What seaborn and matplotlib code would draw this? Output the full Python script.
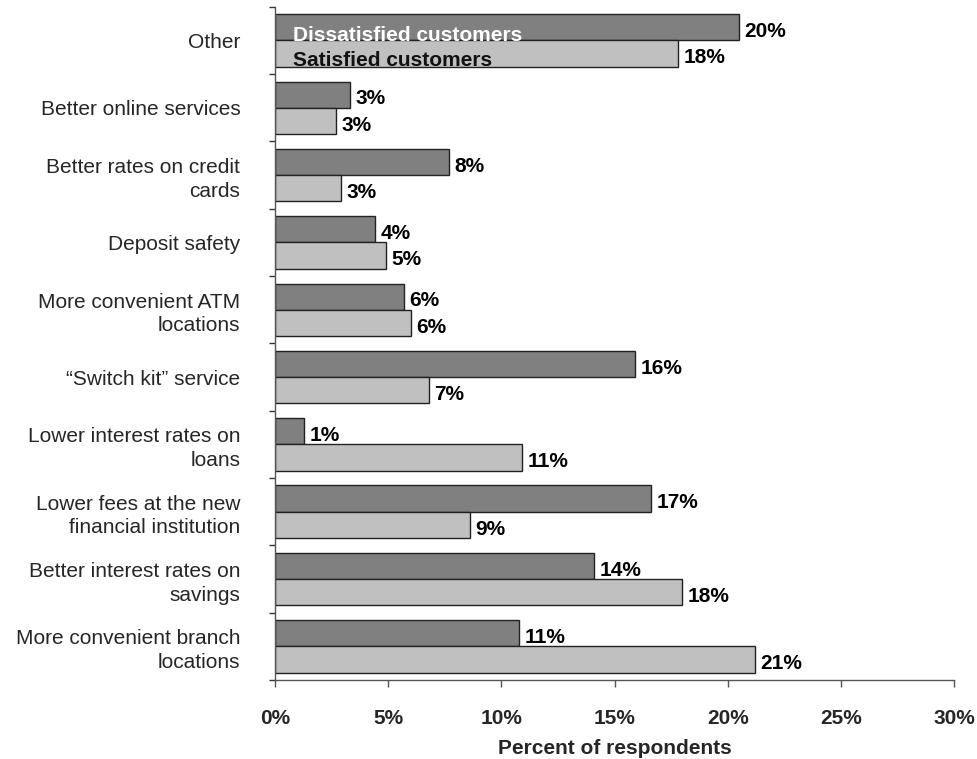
import pandas as pd
import matplotlib
matplotlib.use("Agg")
import matplotlib.pyplot as plt
from matplotlib.ticker import FixedLocator, PercentFormatter
import seaborn as sns

# --- data ---
reasons = [
    "Other",
    "Better online services",
    "Better rates on credit\ncards",
    "Deposit safety",
    "More convenient ATM\nlocations",
    "\u201cSwitch kit\u201d service",
    "Lower interest rates on\nloans",
    "Lower fees at the new\nfinancial institution",
    "Better interest rates on\nsavings",
    "More convenient branch\nlocations",
]
dissatisfied = [20.5, 3.3, 7.7, 4.4, 5.7, 15.9, 1.3, 16.6, 14.1, 10.8]
satisfied = [17.8, 2.7, 2.9, 4.9, 6.0, 6.8, 10.9, 8.6, 18.0, 21.2]
groups = ["Dissatisfied customers", "Satisfied customers"]
x_ticks = [0, 5, 10, 15, 20, 25, 30]

df = pd.DataFrame({
    "Reason": reasons * 2,
    "Percent": dissatisfied + satisfied,
    "Group": [groups[0]] * len(reasons) + [groups[1]] * len(reasons),
})

sns.set_style("white")
plt.rcParams["font.family"] = ["Liberation Sans", "DejaVu Sans"]

fig = plt.figure(figsize=(9.77, 7.59), dpi=100)
ax = fig.add_axes([0.2815, 0.104, 0.695, 0.887])

sns.barplot(
    data=df, y="Reason", x="Percent", hue="Group", orient="h",
    palette={groups[0]: "#808080", groups[1]: "#C0C0C0"},
    saturation=1, width=0.78, edgecolor="#222222", linewidth=1.0, ax=ax,
)

for cont in ax.containers:
    anns = ax.bar_label(cont, labels=[f"{round(v)}%" for v in cont.datavalues],
                        padding=4, fontsize=15, fontweight="bold", color="black")
    for a in anns:
        a.xyann = (4, -3)

ax.set_xlim(0, 30)
ax.set_ylim(len(reasons) - 0.5, -0.5)
ax.xaxis.set_major_locator(FixedLocator(x_ticks))
ax.xaxis.set_major_formatter(PercentFormatter(decimals=0))
ax.tick_params(axis="x", which="major", bottom=True, direction="out", length=5, width=1,
               color="#555555", pad=16, labelsize=15)
for lab in ax.get_xticklabels():
    lab.set_fontweight("bold")

# category labels without ticks, short ticks at group borders
ax.tick_params(axis="y", which="major", left=True, length=0, pad=25, labelsize=15)
ax.yaxis.set_minor_locator(FixedLocator([i - 0.5 for i in range(len(reasons) + 1)]))
ax.tick_params(axis="y", which="minor", left=True, direction="out", length=4, width=1,
               color="#333333")
for lab in ax.get_yticklabels():
    lab.set_multialignment("right")
    lab.set_linespacing(1.3)

ax.set_ylabel("")
ax.set_xlabel("Percent of respondents", fontsize=15, fontweight="bold", labelpad=8)

sns.despine(ax=ax, top=True, right=True)
for side in ["left", "bottom"]:
    ax.spines[side].set_color("#555555")
    ax.spines[side].set_linewidth(1)

leg = ax.legend(loc="upper left", bbox_to_anchor=(-0.001, 1.0), frameon=False,
                handlelength=0, handletextpad=0, labelspacing=0.3,
                prop={"size": 15, "weight": "bold"})
for h in leg.legend_handles:
    h.set_visible(False)
leg.get_texts()[0].set_color("white")
leg.get_texts()[1].set_color("#111111")

fig.savefig("out.png", dpi=100)
